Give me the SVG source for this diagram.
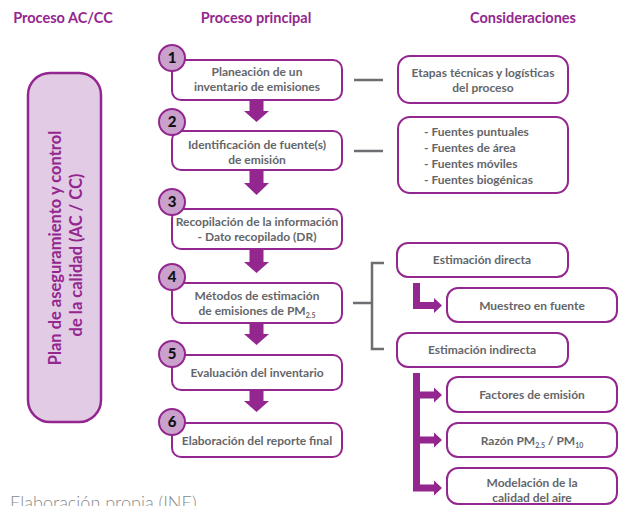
<svg xmlns="http://www.w3.org/2000/svg" width="618" height="506" viewBox="0 0 618 506">
<style>
.hdr{font-family:Lato,"Liberation Sans",sans-serif;font-weight:bold;font-size:14.5px;fill:#93278F;text-anchor:middle}
.box{fill:#fff;stroke:#93278F;stroke-width:2}
.t{font-family:Lato,"Liberation Sans",sans-serif;font-weight:bold;font-size:12px;fill:#656669;text-anchor:middle}
.tl{text-anchor:start}
.num{font-family:Lato,"Liberation Sans",sans-serif;font-weight:900;font-size:15px;fill:#111;text-anchor:middle}
.circ{fill:#C9A1CC;stroke:#93278F;stroke-width:2}
.arr{fill:#93278F}
.gray{fill:none;stroke:#6D6E71;stroke-width:2.5}
.sub{font-size:7px}
.big{font-family:Lato,"Liberation Sans",sans-serif;font-weight:bold;font-size:16.5px;fill:#93278F;text-anchor:middle}
</style>
<rect width="618" height="506" fill="#fff"/>
<g id="headers">
<text class="hdr" x="63" y="23">Proceso AC/CC</text>
<text class="hdr" x="256" y="23">Proceso principal</text>
<text class="hdr" x="523" y="23">Consideraciones</text>
</g>
<g id="plan">
<rect x="28" y="73" width="73" height="349" rx="22" fill="#E2CBE4" stroke="#93278F" stroke-width="2.5"/>
<text class="big" transform="translate(61,248) rotate(-90)">Plan de aseguramiento y control</text>
<text class="big" transform="translate(82,255) rotate(-90)">de la calidad (AC / CC)</text>
</g>
<g id="connectors">
<path class="arr" d="M249.5,100H263.5V111H269L256.5,122L244,111H249.5Z"/>
<path class="arr" d="M249.5,170H263.5V183H269L256.5,195L244,183H249.5Z"/>
<path class="arr" d="M249.5,249H263.5V262H269L256.5,273L244,262H249.5Z"/>
<path class="arr" d="M249.5,323H263.5V334H269L256.5,345L244,334H249.5Z"/>
<path class="arr" d="M249.5,390H263.5V401H269L256.5,412L244,401H249.5Z"/>
<path class="gray" stroke-width="3" d="M354,80H383M354,151H383"/>
<path class="gray" d="M353,303H372M384,263H372V349H384"/>
<path class="arr" d="M413,283H420V302H434V298L442,305.5L434,313V309H413Z"/>
<path class="arr" d="M413,373H420V391.5H434V387.5L442,395L434,402.5V398.5H420V436.5H434V432.5L442,440L434,447.5V443.5H420V484.5H434V480.5L442,488L434,495.5V491.5H413Z"/>
</g>
<g id="step1">
<rect class="box" x="172" y="60" width="170" height="40" rx="9"/>
<text class="t" x="257" y="76">Planeación de un</text>
<text class="t" x="257" y="91">inventario de emisiones</text>
<circle class="circ" cx="172" cy="58" r="13"/>
<text class="num" x="172" y="63">1</text>
</g>
<g id="step2">
<rect class="box" x="172" y="131" width="170" height="39" rx="9"/>
<text class="t" x="257" y="149">Identificación de fuente(s)</text>
<text class="t" x="257" y="164">de emisión</text>
<circle class="circ" cx="172" cy="122" r="13"/>
<text class="num" x="172" y="127">2</text>
</g>
<g id="step3">
<rect class="box" x="172" y="209" width="170" height="40" rx="9"/>
<text class="t" x="257" y="226">Recopilación de la información</text>
<text class="t" x="257" y="241">- Dato recopilado (DR)</text>
<circle class="circ" cx="172" cy="202" r="13"/>
<text class="num" x="172" y="207">3</text>
</g>
<g id="step4">
<rect class="box" x="172" y="283" width="170" height="40" rx="9"/>
<text class="t" x="257" y="300">Métodos de estimación</text>
<text class="t" x="257" y="315">de emisiones de PM<tspan class="sub" dy="3">2.5</tspan></text>
<circle class="circ" cx="172" cy="277" r="13"/>
<text class="num" x="172" y="282">4</text>
</g>
<g id="step5">
<rect class="box" x="172" y="355" width="170" height="35" rx="9"/>
<text class="t" x="257" y="377">Evaluación del inventario</text>
<circle class="circ" cx="172" cy="354" r="13"/>
<text class="num" x="172" y="359">5</text>
</g>
<g id="step6">
<rect class="box" x="172" y="423" width="170" height="34" rx="9"/>
<text class="t" x="257" y="445">Elaboración del reporte final</text>
<circle class="circ" cx="172" cy="422" r="13"/>
<text class="num" x="172" y="427">6</text>
</g>
<g id="etapas">
<rect class="box" x="398" y="56" width="170" height="47" rx="12"/>
<text class="t" x="483" y="77">Etapas técnicas y logísticas</text>
<text class="t" x="483" y="92">del proceso</text>
</g>
<g id="fuentes">
<rect class="box" x="398" y="117" width="170" height="76" rx="12"/>
<text class="t tl" x="424" y="136">- Fuentes puntuales</text>
<text class="t tl" x="424" y="152">- Fuentes de área</text>
<text class="t tl" x="424" y="168">- Fuentes móviles</text>
<text class="t tl" x="424" y="184">- Fuentes biogénicas</text>
</g>
<g id="directa">
<rect class="box" x="397" y="243" width="171" height="34" rx="11"/>
<text class="t" x="482" y="264">Estimación directa</text>
</g>
<g id="muestreo">
<rect class="box" x="447" y="288" width="170" height="34" rx="11"/>
<text class="t" x="532" y="310">Muestreo en fuente</text>
</g>
<g id="indirecta">
<rect class="box" x="397" y="333" width="171" height="34" rx="11"/>
<text class="t" x="482" y="354">Estimación indirecta</text>
</g>
<g id="factores">
<rect class="box" x="447" y="377" width="170" height="35" rx="11"/>
<text class="t" x="532" y="399">Factores de emisión</text>
</g>
<g id="razon">
<rect class="box" x="447" y="423" width="170" height="34" rx="11"/>
<text class="t" x="532" y="445">Razón PM<tspan class="sub" dy="3">2.5</tspan><tspan dy="-3"> / PM</tspan><tspan class="sub" dy="3">10</tspan></text>
</g>
<g id="modelacion">
<rect class="box" x="447" y="468" width="170" height="36" rx="11"/>
<text class="t" x="532" y="487">Modelación de la</text>
<text class="t" x="532" y="502">calidad del aire</text>
</g>
<text x="10" y="509" font-family="Lato, 'Liberation Sans', sans-serif" font-size="18" font-weight="300" fill="#8A8A8A">Elaboración propia (INE)</text>
</svg>
